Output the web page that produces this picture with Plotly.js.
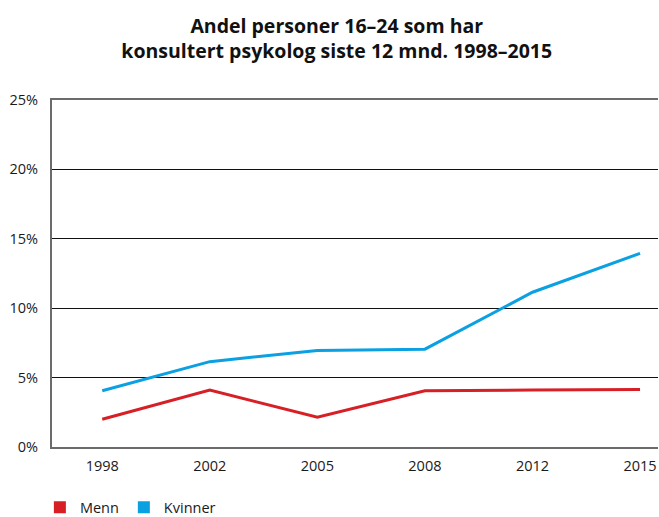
<!DOCTYPE html>
<html>
<head>
<meta charset="utf-8">
<script src="https://cdn.plot.ly/plotly-3.0.1.min.js"></script>
<style>html,body{margin:0;padding:0;background:#fff;}#chart{width:659px;height:517px;}</style>
</head>
<body>
<div id="chart"></div>
<script>
const years = ['1998', '2002', '2005', '2008', '2012', '2015'];
const menn = [2.0, 4.1, 2.15, 4.05, 4.1, 4.15];
const kvinner = [4.05, 6.15, 6.95, 7.05, 11.15, 13.95];
const seriesNames = ['Menn', 'Kvinner'];
const colors = ['#d71f26', '#0aa0e2'];
const yTicks = [0, 5, 10, 15, 20, 25];

const FONT = 'Open Sans, Noto Sans, sans-serif';
const series = [menn, kvinner];

const traces = [];
series.forEach((vals, i) => {
  traces.push({
    type: 'scatter', mode: 'lines', x: years, y: vals, name: seriesNames[i],
    line: {color: colors[i], width: 3}, showlegend: false, legendgroup: seriesNames[i],
    hoverinfo: 'x+y'
  });
});
series.forEach((vals, i) => {
  traces.push({
    type: 'bar', x: years, y: vals.map(() => null), name: seriesNames[i],
    marker: {color: colors[i]}, legendgroup: seriesNames[i], showlegend: true
  });
});

const layout = {
  width: 659, height: 517,
  margin: {l: 52, r: 1, t: 100, b: 70, autoexpand: false},
  paper_bgcolor: '#fff', plot_bgcolor: '#fff',
  font: {family: FONT, size: 14, color: '#1a1a1a'},
  title: {
    text: '<b>Andel personer 16–24 som har<br>konsultert psykolog siste 12 mnd. 1998–2015</b>',
    font: {family: FONT, size: 19.5, color: '#111'},
    x: 0.511, xanchor: 'center', xref: 'container', y: 0.936, yanchor: 'middle', yref: 'container'
  },
  xaxis: {
    type: 'category', range: [-0.467, 5.167],
    showgrid: false, zeroline: false,
    showline: true, linecolor: '#6b6b6b', linewidth: 2, mirror: true,
    ticks: '', ticklabelstandoff: 5,
    tickfont: {family: FONT, size: 14.5, color: '#1a1a1a'}
  },
  yaxis: {
    range: [0, 25], tickvals: yTicks, ticktext: yTicks.map(v => v + '%'),
    showgrid: true, gridcolor: '#111', gridwidth: 1,
    zeroline: false, showline: true, linecolor: '#6b6b6b', linewidth: 2,
    ticks: '', ticklabelstandoff: 9,
    tickfont: {family: FONT, size: 14.5, color: '#1a1a1a'}
  },
  legend: {
    orientation: 'h', x: -0.02, xanchor: 'left', y: -0.128, yanchor: 'top',
    font: {family: FONT, size: 14.5, color: '#1a1a1a'}, itemwidth: 30, traceorder: 'normal'
  },
  showlegend: true
};

Plotly.newPlot('chart', traces, layout, {displayModeBar: false, staticPlot: true});
</script>
</body>
</html>
